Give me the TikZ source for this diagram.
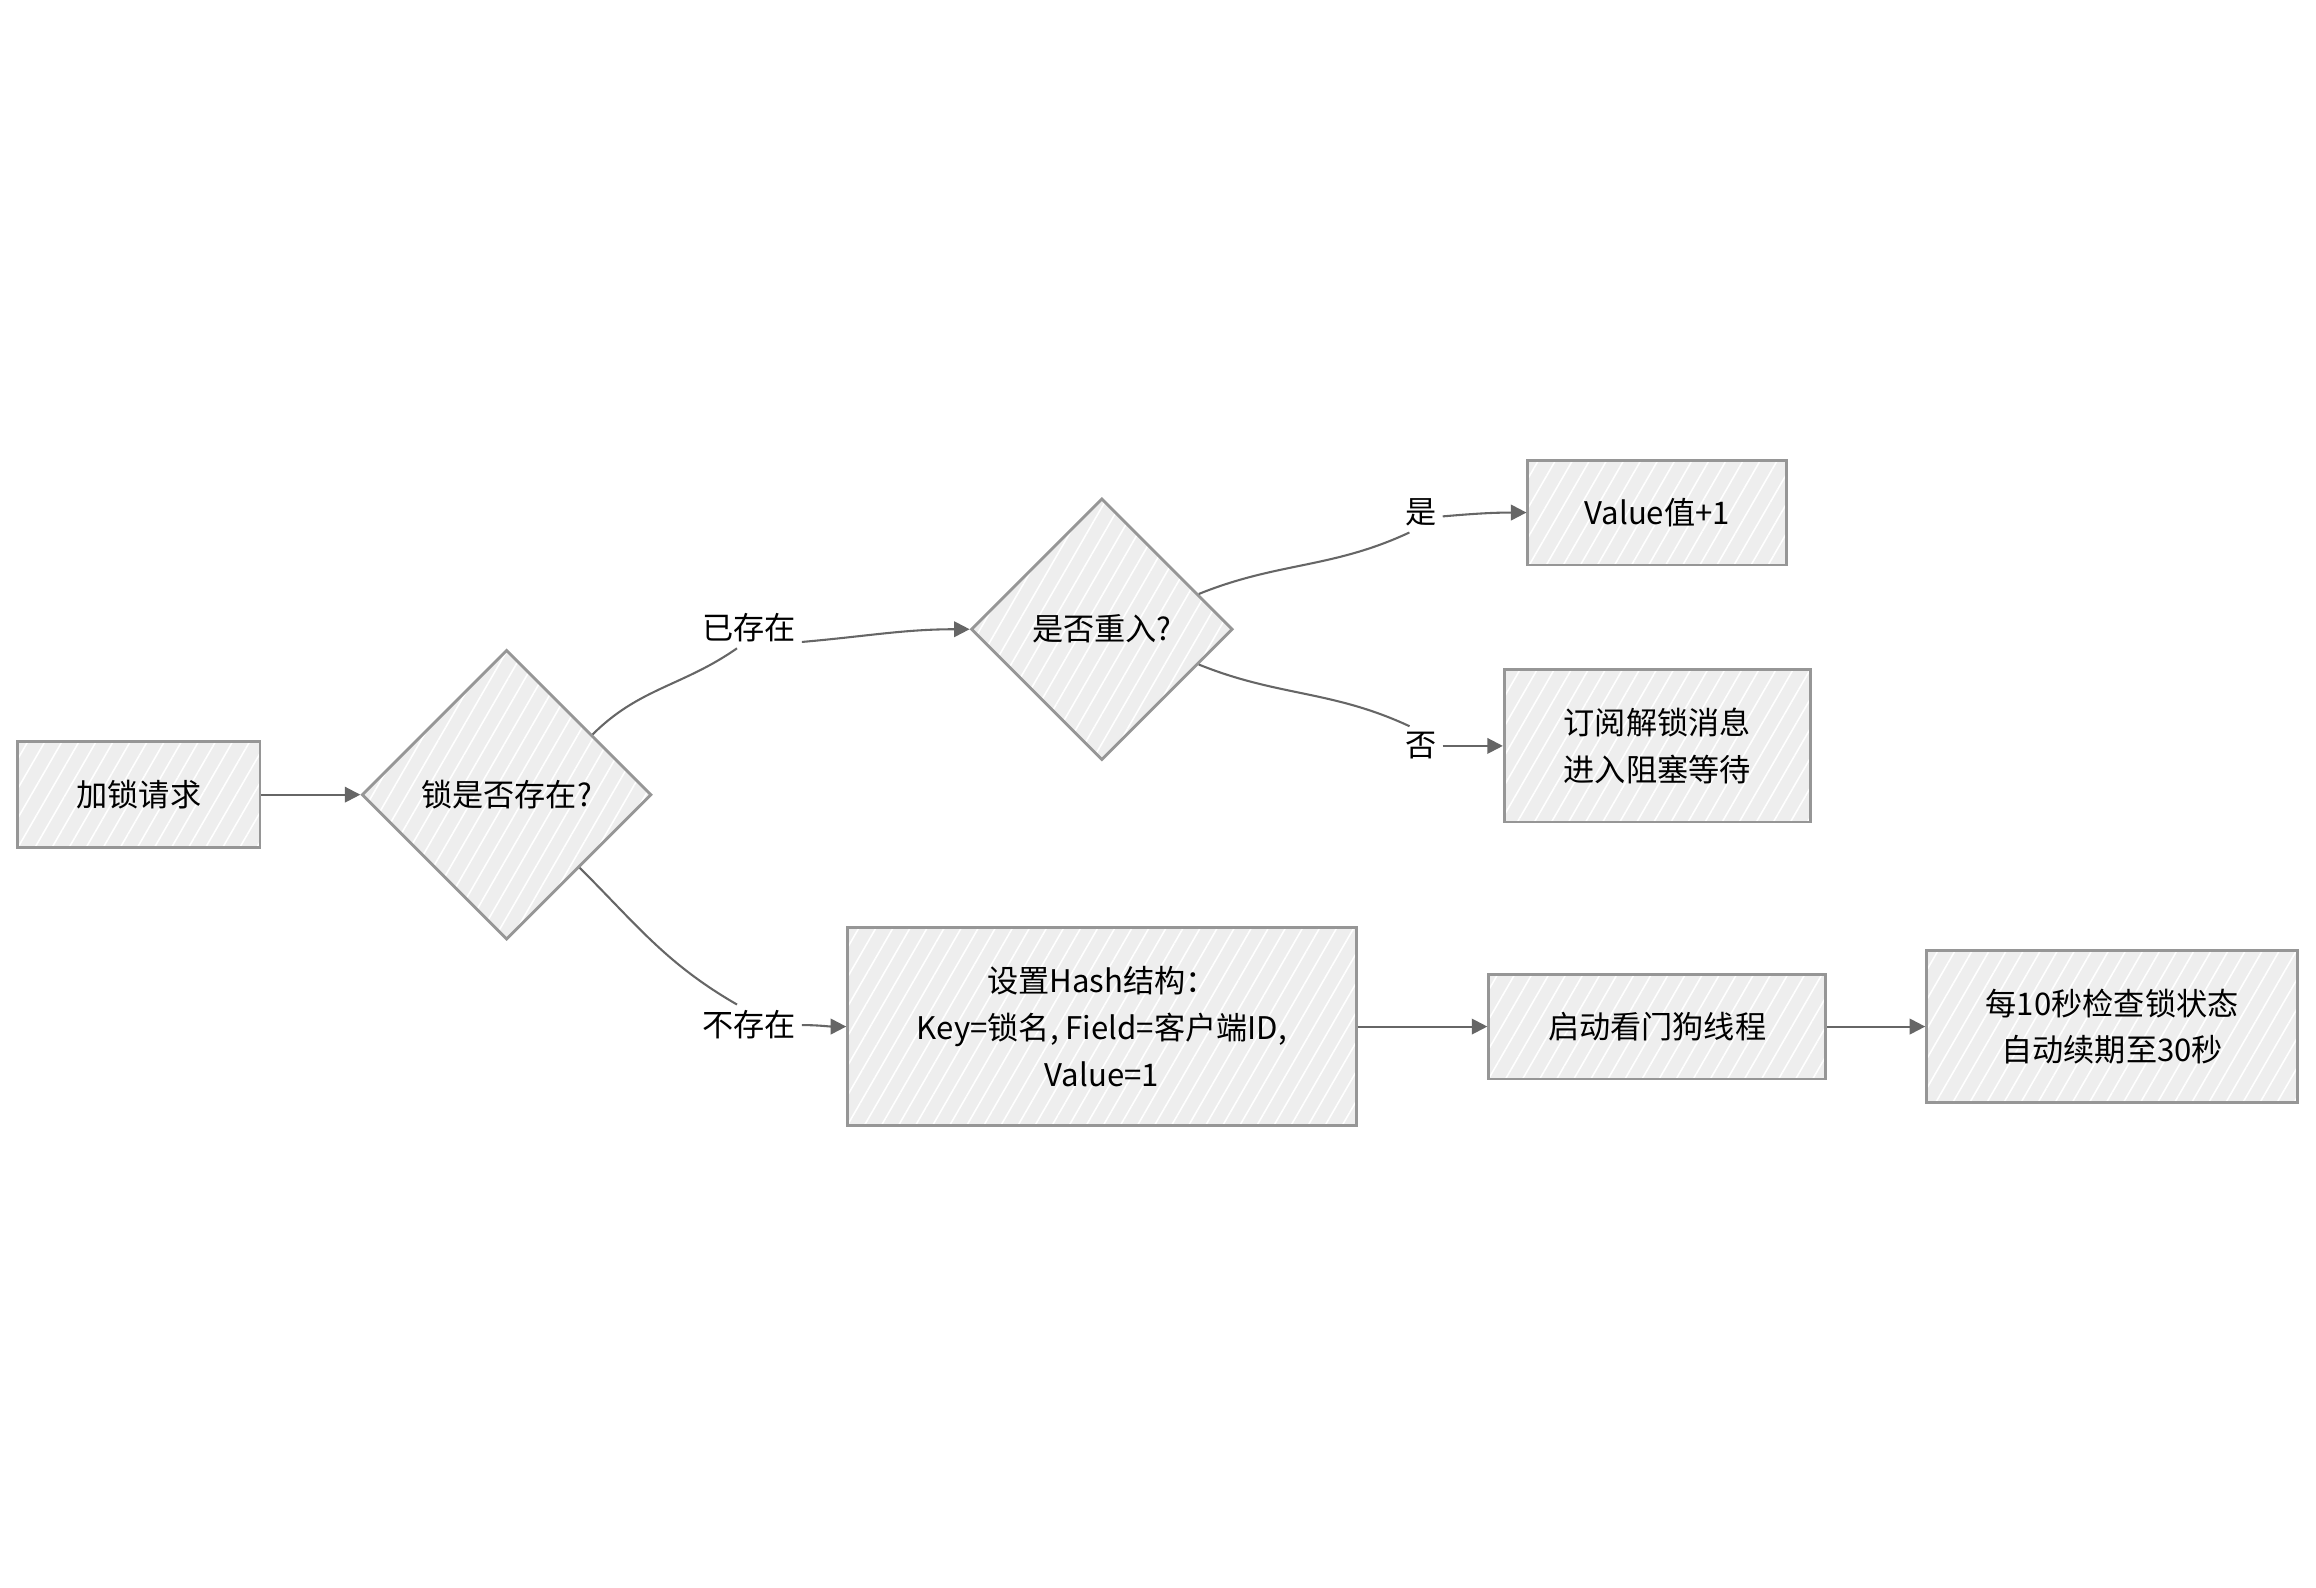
\documentclass[tikz,border=0pt]{standalone}
\usepackage{fontspec}
\setmainfont{Noto Sans CJK SC}
\usetikzlibrary{shapes.geometric, arrows.meta, patterns.meta}

\definecolor{boxfill}{HTML}{EEEEEE}
\definecolor{boxline}{HTML}{969696}
\definecolor{flowline}{HTML}{666666}

\tikzset{
    hatch/.style={preaction={fill=boxfill}, preaction={pattern={Lines[angle=60, distance=0.1cm, line width=0.3pt]}, pattern color=white}},
    box/.style={draw=boxline, line width=0.55pt, hatch, align=center, inner sep=0pt},
    decision/.style={diamond, aspect=1, draw=boxline, line width=0.55pt, hatch, align=center, inner sep=0pt},
    tag/.style={inner sep=1pt},
    link/.style={draw=flowline, line width=0.4pt},
    flow/.style={link, -{Triangle[length=3pt, width=3pt]}},
}

\begin{document}
\begin{tikzpicture}[x=0.01cm, y=-0.01cm, font=\fontsize{6}{9}\selectfont]
    \useasboundingbox (0,0) rectangle (1568,1075.1);

    % Request and checks
    \node[box, minimum width=1.64cm, minimum height=0.72cm] (request) at (94,538) {加锁请求};
    \node[decision, minimum width=1.96cm, minimum height=1.96cm] (lockexist) at (343,538) {锁是否存在?};
    \node[decision, minimum width=1.77cm, minimum height=1.77cm] (reentry) at (746,426) {是否重入?};

    % Results
    \node[box, minimum width=1.75cm, minimum height=0.71cm] (value) at (1122,347) {Value值+1};
    \node[box, minimum width=2.07cm, minimum height=1.03cm] (subscribe) at (1122,505) {订阅解锁消息\\进入阻塞等待};
    \node[box, minimum width=3.44cm, minimum height=1.34cm] (hash) at (746,695) {设置Hash结构：\\Key=锁名, Field=客户端ID,\\Value=1};
    \node[box, minimum width=2.28cm, minimum height=0.71cm] (watchdog) at (1122,695) {启动看门狗线程};
    \node[box, minimum width=2.51cm, minimum height=1.03cm] (renew) at (1430,695) {每10秒检查锁状态\\自动续期至30秒};

    % Edge labels
    \node[tag] (lblexist) at (507,425) {已存在};
    \node[tag] (lblabsent) at (507,694) {不存在};
    \node[tag] (lblyes) at (962,347) {是};
    \node[tag] (lblno) at (962,505) {否};

    % Arrows
    \draw[flow] (request) -- (lockexist);
    \draw[link] (lockexist.35) to[out=45, in=215] (lblexist.240);
    \draw[flow] (lblexist.-15) to[out=5, in=180] (reentry.west);
    \draw[link] (lockexist.south east) to[out=-45, in=150] (lblabsent.120);
    \draw[flow] (lblabsent.east) to[out=0, in=180] (hash.west);
    \draw[link] (reentry.20) to[out=22, in=205] (lblyes.240);
    \draw[flow] (lblyes.-10) to[out=5, in=180] (value.west);
    \draw[link] (reentry.-20) to[out=-22, in=155] (lblno.120);
    \draw[flow] (lblno.east) to[out=0, in=180] (subscribe.west);
    \draw[flow] (hash) -- (watchdog);
    \draw[flow] (watchdog) -- (renew);
\end{tikzpicture}
\end{document}
